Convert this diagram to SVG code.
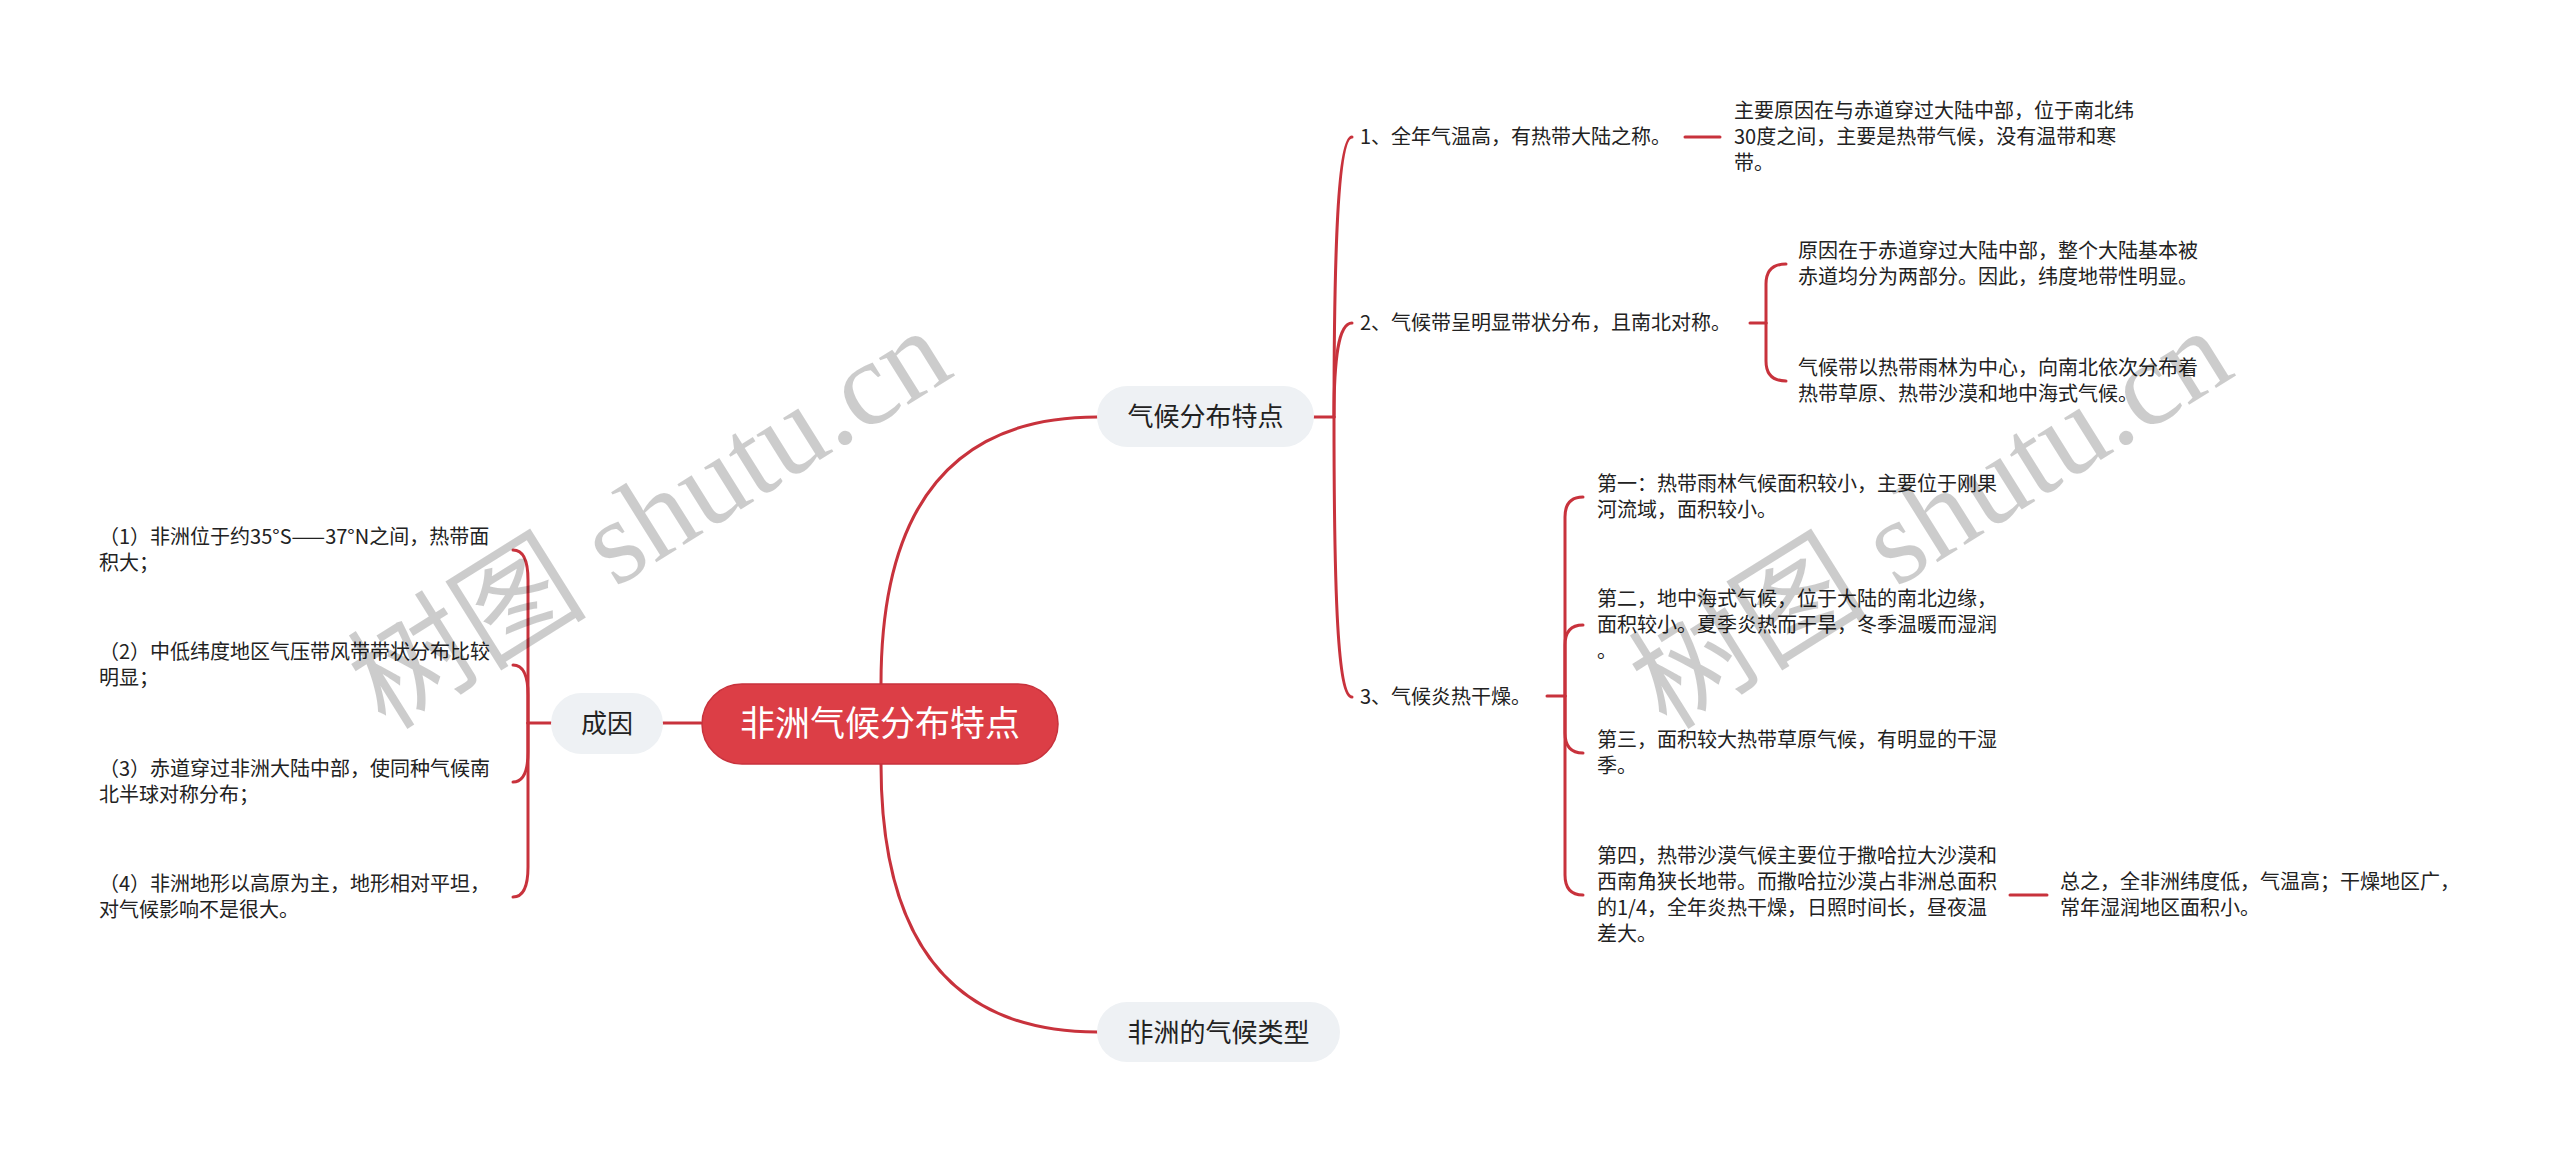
<svg xmlns="http://www.w3.org/2000/svg" width="2560" height="1149" viewBox="0 0 2560 1149">
<style>
.bg{fill:#ffffff}
.ln{fill:none;stroke:#C8323C;stroke-width:3;stroke-linecap:round}
.root{fill:#DC3E46;stroke:#C8323C;stroke-width:1.5}
.main{fill:#EEF1F4}
.t{font-family:"Noto Sans CJK SC","Liberation Sans",sans-serif;fill:#222}
.s{font-size:20px}
.m{font-size:26px;text-anchor:middle}
.r{font-size:35px;text-anchor:middle;fill:#ffffff}
.wm{font-family:"Liberation Serif","Noto Sans CJK SC",serif;font-size:120px;fill:#000;fill-opacity:0.2;text-anchor:middle}
</style>
<rect class="bg" x="0" y="0" width="2560" height="1149"/>
<g id="connectors">
  <path class="ln" d="M881 684 Q881 417 1097 417"/>
  <path class="ln" d="M881 764 Q881 1032 1097 1032"/>
  <path class="ln" d="M701 723 H663"/>
  <path class="ln" d="M551 723 H528"/>
  <path class="ln" d="M528 723 V580 Q528 550 513 550"/>
  <path class="ln" d="M528 723 V695 Q528 665 513 665"/>
  <path class="ln" d="M528 723 V752 Q528 782 513 782"/>
  <path class="ln" d="M528 723 V867 Q528 897 513 897"/>
  <path class="ln" d="M1314 417 H1334"/>
  <path class="ln" d="M1334 417 C1334 250 1338 137 1352 137"/>
  <path class="ln" d="M1334 417 C1334 360 1338 323 1352 323"/>
  <path class="ln" d="M1334 417 C1334 600 1338 697 1352 697"/>
  <path class="ln" d="M1685 137 H1720"/>
  <path class="ln" d="M1750 323 H1766"/>
  <path class="ln" d="M1766 323 V284 Q1766 264 1786 264"/>
  <path class="ln" d="M1766 323 V361 Q1766 381 1786 381"/>
  <path class="ln" d="M1547 696 H1565"/>
  <path class="ln" d="M1565 696 V517 Q1565 497 1583 497"/>
  <path class="ln" d="M1565 696 V645 Q1565 625 1583 625"/>
  <path class="ln" d="M1565 696 V733 Q1565 753 1583 753"/>
  <path class="ln" d="M1565 696 V875 Q1565 895 1583 895"/>
  <path class="ln" d="M2010 895 H2047"/>
</g>
<g id="root">
  <rect class="root" x="702" y="684" width="356" height="80" rx="40"/>
  <text class="t r" x="880" y="736">非洲气候分布特点</text>
</g>
<g id="n-chengyin">
  <rect class="main" x="551" y="693" width="112" height="61" rx="30.5"/>
  <text class="t m" x="607" y="733">成因</text>
</g>
<g id="n-tedian">
  <rect class="main" x="1097" y="386" width="217" height="61" rx="30.5"/>
  <text class="t m" x="1205.5" y="426">气候分布特点</text>
</g>
<g id="n-leixing">
  <rect class="main" x="1097" y="1002" width="243" height="60" rx="30"/>
  <text class="t m" x="1218.5" y="1041.5">非洲的气候类型</text>
</g>
<g id="c1">
  <text class="t s" x="99" y="544">（1）非洲位于约35°S——37°N之间，热带面</text>
  <text class="t s" x="99" y="570">积大；</text>
</g>
<g id="c2">
  <text class="t s" x="99" y="659">（2）中低纬度地区气压带风带带状分布比较</text>
  <text class="t s" x="99" y="685">明显；</text>
</g>
<g id="c3">
  <text class="t s" x="99" y="776">（3）赤道穿过非洲大陆中部，使同种气候南</text>
  <text class="t s" x="99" y="802">北半球对称分布；</text>
</g>
<g id="c4">
  <text class="t s" x="99" y="891">（4）非洲地形以高原为主，地形相对平坦，</text>
  <text class="t s" x="99" y="917">对气候影响不是很大。</text>
</g>
<g id="f1">
  <text class="t s" x="1360" y="144">1、全年气温高，有热带大陆之称。</text>
</g>
<g id="f1a">
  <text class="t s" x="1734" y="118">主要原因在与赤道穿过大陆中部，位于南北纬</text>
  <text class="t s" x="1734" y="144">30度之间，主要是热带气候，没有温带和寒</text>
  <text class="t s" x="1734" y="170">带。</text>
</g>
<g id="f2">
  <text class="t s" x="1360" y="330">2、气候带呈明显带状分布，且南北对称。</text>
</g>
<g id="f2a">
  <text class="t s" x="1798" y="258">原因在于赤道穿过大陆中部，整个大陆基本被</text>
  <text class="t s" x="1798" y="284">赤道均分为两部分。因此，纬度地带性明显。</text>
</g>
<g id="f2b">
  <text class="t s" x="1798" y="375">气候带以热带雨林为中心，向南北依次分布着</text>
  <text class="t s" x="1798" y="401">热带草原、热带沙漠和地中海式气候。</text>
</g>
<g id="f3">
  <text class="t s" x="1360" y="704">3、气候炎热干燥。</text>
</g>
<g id="f3a">
  <text class="t s" x="1597" y="491">第一：热带雨林气候面积较小，主要位于刚果</text>
  <text class="t s" x="1597" y="517">河流域，面积较小。</text>
</g>
<g id="f3b">
  <text class="t s" x="1597" y="606">第二，地中海式气候，位于大陆的南北边缘，</text>
  <text class="t s" x="1597" y="632">面积较小。夏季炎热而干旱，冬季温暖而湿润</text>
  <text class="t s" x="1597" y="658">。</text>
</g>
<g id="f3c">
  <text class="t s" x="1597" y="747">第三，面积较大热带草原气候，有明显的干湿</text>
  <text class="t s" x="1597" y="773">季。</text>
</g>
<g id="f3d">
  <text class="t s" x="1597" y="863">第四，热带沙漠气候主要位于撒哈拉大沙漠和</text>
  <text class="t s" x="1597" y="889">西南角狭长地带。而撒哈拉沙漠占非洲总面积</text>
  <text class="t s" x="1597" y="915">的1/4，全年炎热干燥，日照时间长，昼夜温</text>
  <text class="t s" x="1597" y="941">差大。</text>
</g>
<g id="f3d1">
  <text class="t s" x="2060" y="889">总之，全非洲纬度低，气温高；干燥地区广，</text>
  <text class="t s" x="2060" y="915">常年湿润地区面积小。</text>
</g>
<g id="watermark">
  <text class="wm" transform="translate(650 519) rotate(-32)" x="0" y="40">树图 shutu.cn</text>
  <text class="wm" transform="translate(1931 519) rotate(-32)" x="0" y="40">树图 shutu.cn</text>
</g>
</svg>
